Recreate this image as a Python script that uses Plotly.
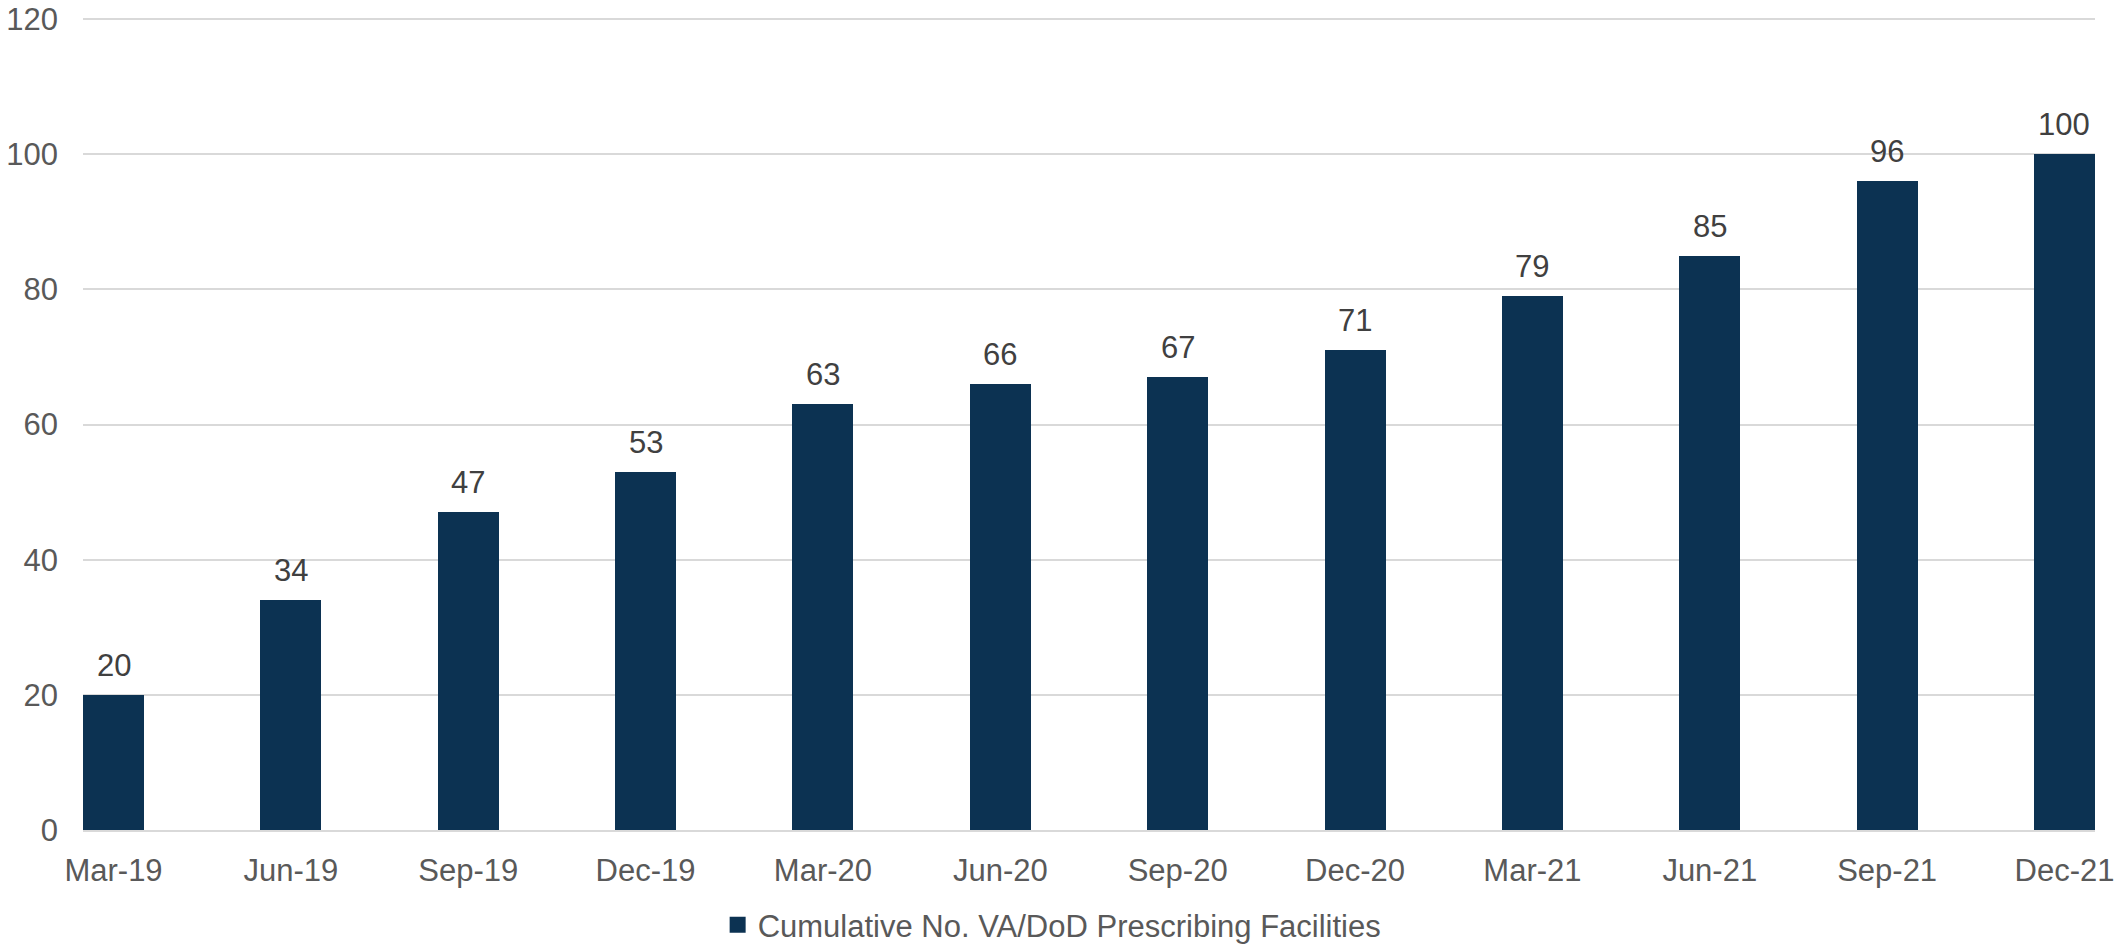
import plotly.graph_objects as go

categories = ["Mar-19", "Jun-19", "Sep-19", "Dec-19", "Mar-20", "Jun-20",
              "Sep-20", "Dec-20", "Mar-21", "Jun-21", "Sep-21", "Dec-21"]
values = [20, 34, 47, 53, 63, 66, 67, 71, 79, 85, 96, 100]
series_name = "Cumulative No. VA/DoD Prescribing Facilities"
y_ticks = [0, 20, 40, 60, 80, 100, 120]

BAR = "#0C3252"
FONT = "Liberation Sans, Arial, sans-serif"

fig = go.Figure()
fig.add_trace(go.Bar(
    x=categories, y=values, name=series_name,
    marker=dict(color=BAR, line=dict(width=0)),
    width=0.344, showlegend=False,
))
# legend entry (larger square swatch, like the reference)
fig.add_trace(go.Scatter(
    x=[None], y=[None], mode="markers", name=series_name,
    marker=dict(symbol="square", size=16, color=BAR), showlegend=True,
))

for c, v in zip(categories, values):
    fig.add_annotation(x=c, y=v, text=str(v), showarrow=False,
                       yanchor="bottom", yshift=10,
                       font=dict(family=FONT, size=31, color="#404040"))

fig.update_layout(
    width=2114, height=945,
    margin=dict(l=83, r=19, t=17, b=115),
    plot_bgcolor="white", paper_bgcolor="white",
    font=dict(family=FONT, size=31, color="#595959"),
    bargap=0,
    showlegend=True,
    legend=dict(orientation="h", xref="container", x=0.4977, xanchor="center",
                yref="container", y=0.021, yanchor="middle",
                font=dict(family=FONT, size=31, color="#595959"),
                itemwidth=30),
    xaxis=dict(type="category", range=[-0.172, 11.172], showgrid=False,
               showline=True, linecolor="#D9D9D9", linewidth=1.5, automargin=False,
               ticks="", ticklabelstandoff=12, ticklabeloverflow="allow",
               tickfont=dict(size=31, color="#595959")),
    yaxis=dict(range=[0, 120.3], tickvals=y_ticks, showgrid=True, gridcolor="#D9D9D9",
               gridwidth=1.5, zeroline=False, showline=False, ticks="", automargin=False,
               ticklabelstandoff=24, ticklabeloverflow="allow",
               tickfont=dict(size=31, color="#595959")),
)

fig.write_html("out.html", config={"displayModeBar": False},
               post_script="document.body.style.margin='0';")
